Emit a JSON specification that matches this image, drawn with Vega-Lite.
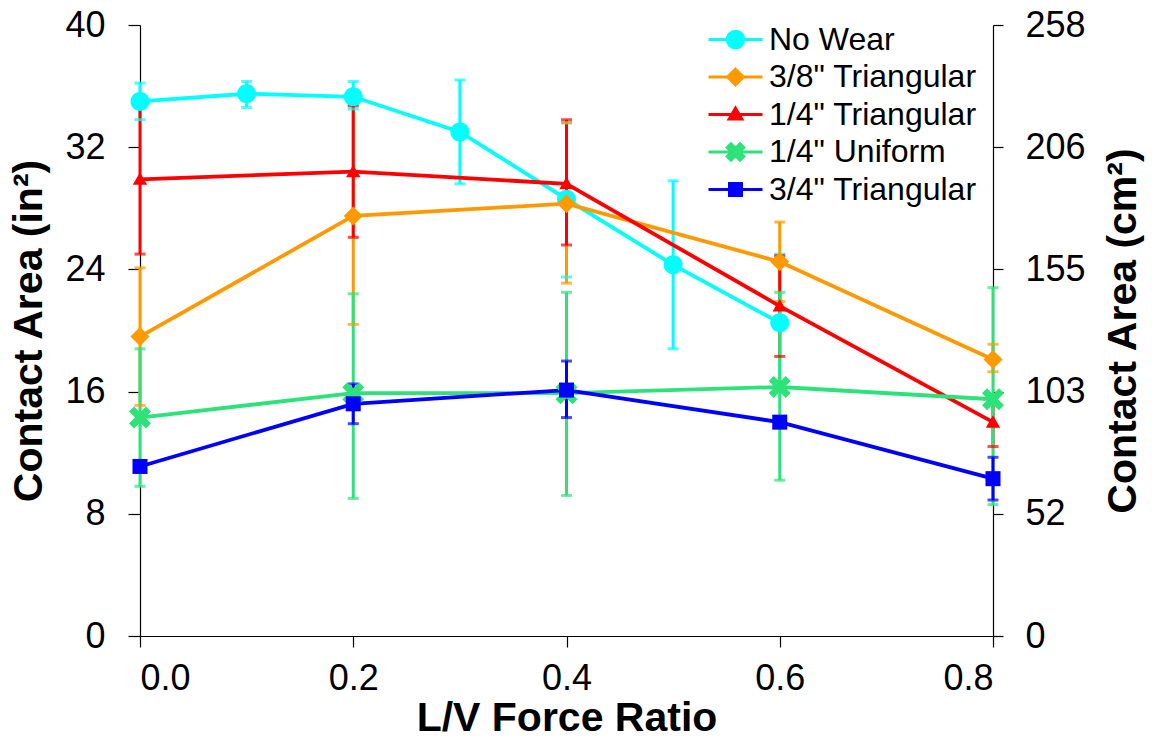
{
  "$schema": "https://vega.github.io/schema/vega-lite/v6.json",
  "width": 853,
  "height": 611,
  "autosize": {"type": "none"},
  "padding": {"left": 140, "top": 25, "right": 159, "bottom": 103},
  "config": {
    "view": {"stroke": null},
    "font": "Liberation Sans",
    "axis": {
      "grid": false,
      "domainColor": "#000000",
      "tickColor": "#000000",
      "domainWidth": 1.2,
      "tickWidth": 1.2,
      "labelFont": "Liberation Sans",
      "labelFontSize": 36,
      "labelColor": "#000000",
      "titleFont": "Liberation Sans",
      "titleFontSize": 41,
      "titleFontWeight": "bold",
      "titleColor": "#000000"
    }
  },
  "layer": [
    {
      "data": {
        "values": [
          {"series": "No Wear", "ratio": 0.0, "area": 35.0, "lo": 33.8, "hi": 36.2},
          {"series": "No Wear", "ratio": 0.1, "area": 35.5, "lo": 34.6, "hi": 36.3},
          {"series": "No Wear", "ratio": 0.2, "area": 35.3, "lo": 34.5, "hi": 36.3},
          {"series": "No Wear", "ratio": 0.3, "area": 33.0, "lo": 29.6, "hi": 36.4},
          {"series": "No Wear", "ratio": 0.4, "area": 28.6, "lo": 23.5, "hi": 33.6},
          {"series": "No Wear", "ratio": 0.5, "area": 24.3, "lo": 18.8, "hi": 29.8},
          {"series": "No Wear", "ratio": 0.6, "area": 20.5, "lo": 16.0, "hi": 25.0},
          {"series": "3/8\" Triangular", "ratio": 0.0, "area": 19.6, "lo": 15.1, "hi": 24.1},
          {"series": "3/8\" Triangular", "ratio": 0.2, "area": 27.5, "lo": 20.4, "hi": 34.8},
          {"series": "3/8\" Triangular", "ratio": 0.4, "area": 28.3, "lo": 23.1, "hi": 33.6},
          {"series": "3/8\" Triangular", "ratio": 0.6, "area": 24.5, "lo": 21.9, "hi": 27.1},
          {"series": "3/8\" Triangular", "ratio": 0.8, "area": 18.1, "lo": 17.3, "hi": 19.1},
          {"series": "1/4\" Triangular", "ratio": 0.0, "area": 29.9, "lo": 25.0, "hi": 34.8},
          {"series": "1/4\" Triangular", "ratio": 0.2, "area": 30.4, "lo": 26.1, "hi": 34.7},
          {"series": "1/4\" Triangular", "ratio": 0.4, "area": 29.6, "lo": 25.6, "hi": 33.8},
          {"series": "1/4\" Triangular", "ratio": 0.6, "area": 21.6, "lo": 18.3, "hi": 24.9},
          {"series": "1/4\" Triangular", "ratio": 0.8, "area": 14.0, "lo": 12.4, "hi": 15.6},
          {"series": "1/4\" Uniform", "ratio": 0.0, "area": 14.3, "lo": 9.8, "hi": 18.8},
          {"series": "1/4\" Uniform", "ratio": 0.2, "area": 15.9, "lo": 9.0, "hi": 22.4},
          {"series": "1/4\" Uniform", "ratio": 0.4, "area": 15.9, "lo": 9.2, "hi": 22.5},
          {"series": "1/4\" Uniform", "ratio": 0.6, "area": 16.3, "lo": 10.2, "hi": 22.5},
          {"series": "1/4\" Uniform", "ratio": 0.8, "area": 15.5, "lo": 8.6, "hi": 22.8},
          {"series": "3/4\" Triangular", "ratio": 0.0, "area": 11.1, "lo": 10.8, "hi": 11.4},
          {"series": "3/4\" Triangular", "ratio": 0.2, "area": 15.2, "lo": 13.9, "hi": 16.5},
          {"series": "3/4\" Triangular", "ratio": 0.4, "area": 16.1, "lo": 14.3, "hi": 18.0},
          {"series": "3/4\" Triangular", "ratio": 0.6, "area": 14.0, "lo": 13.7, "hi": 14.3},
          {"series": "3/4\" Triangular", "ratio": 0.8, "area": 10.3, "lo": 8.9, "hi": 11.7}
        ]
      },
      "encoding": {
        "x": {
          "field": "ratio",
          "type": "quantitative",
          "scale": {"domain": [0, 0.8], "nice": false},
          "axis": {
            "title": "L/V Force Ratio",
            "values": [0, 0.2, 0.4, 0.6, 0.8],
            "format": ".1f",
            "tickSize": 11,
            "labelPadding": 14,
            "titlePadding": 2
          }
        },
        "color": {
          "field": "series",
          "type": "nominal",
          "scale": {
            "domain": ["No Wear", "3/8\" Triangular", "1/4\" Triangular", "1/4\" Uniform", "3/4\" Triangular"],
            "range": ["#00FFFF", "#FF9900", "#FF0000", "#2EE27A", "#0000FF"]
          },
          "legend": {
            "title": null,
            "orient": "none",
            "legendX": 579,
            "legendY": -2,
            "padding": 0,
            "symbolSize": 900,
            "symbolStrokeWidth": 3,
            "labelFont": "Liberation Sans",
            "labelFontSize": 32,
            "labelColor": "#000000",
            "labelOffset": 17,
            "labelLimit": 400,
            "rowPadding": 4.5,
            "encode": {
              "symbols": {
                "update": {
                  "shape": {"signal": "indexof(datum.value, 'No Wear') >= 0 ? 'M-1.8,0H1.8M0.55,0A0.55,0.55 0 1,1 -0.55,0A0.55,0.55 0 1,1 0.55,0Z' : indexof(datum.value, '3/8') >= 0 ? 'M-1.8,0H1.8M0,-0.52L0.52,0L0,0.52L-0.52,0Z' : indexof(datum.value, 'Uniform') >= 0 ? 'M-1.8,0H1.8M-0.55,-0.3L-0.3,-0.55L0,-0.25L0.3,-0.55L0.55,-0.3L0.25,0L0.55,0.3L0.3,0.55L0,0.25L-0.3,0.55L-0.55,0.3L-0.25,0Z' : indexof(datum.value, '3/4') >= 0 ? 'M-1.8,0H1.8M-0.4,-0.4H0.4V0.4H-0.4Z' : 'M-1.8,0H1.8M0,-0.42L0.42,0.3L-0.42,0.3Z'"},
                  "fill": {"scale": "color", "field": "value"},
                  "stroke": {"scale": "color", "field": "value"},
                  "strokeWidth": {"value": 3},
                  "opacity": {"value": 1}
                }
              }
            }
          }
        }
      },
      "layer": [
        {
          "mark": {"type": "rule", "strokeWidth": 3},
          "encoding": {
            "y": {"field": "lo", "type": "quantitative", "scale": {"domain": [0, 40], "nice": false}, "axis": {"title": "Contact Area (in²)", "values": [0, 8, 16, 24, 32, 40], "tickSize": 12, "labelPadding": 23, "titlePadding": 14}},
            "y2": {"field": "hi"}
          }
        },
        {
          "mark": {"type": "tick", "orient": "horizontal", "size": 11, "thickness": 3},
          "encoding": {
            "y": {"field": "hi", "type": "quantitative", "scale": {"domain": [0, 40], "nice": false}, "axis": {"title": "Contact Area (in²)", "values": [0, 8, 16, 24, 32, 40], "tickSize": 12, "labelPadding": 23, "titlePadding": 14}}
          }
        },
        {
          "mark": {"type": "tick", "orient": "horizontal", "size": 11, "thickness": 3},
          "encoding": {
            "y": {"field": "lo", "type": "quantitative", "scale": {"domain": [0, 40], "nice": false}, "axis": {"title": "Contact Area (in²)", "values": [0, 8, 16, 24, 32, 40], "tickSize": 12, "labelPadding": 23, "titlePadding": 14}}
          }
        },
        {
          "mark": {"type": "line", "strokeWidth": 3.8},
          "encoding": {
            "y": {"field": "area", "type": "quantitative", "scale": {"domain": [0, 40], "nice": false}, "axis": {"title": "Contact Area (in²)", "values": [0, 8, 16, 24, 32, 40], "tickSize": 12, "labelPadding": 23, "titlePadding": 14}}
          }
        },
        {
          "mark": {"type": "point", "filled": true, "size": 400, "opacity": 1},
          "encoding": {
            "y": {"field": "area", "type": "quantitative", "scale": {"domain": [0, 40], "nice": false}, "axis": {"title": "Contact Area (in²)", "values": [0, 8, 16, 24, 32, 40], "tickSize": 12, "labelPadding": 23, "titlePadding": 14}},
            "shape": {
              "condition": [
                {"test": "datum.series === 'No Wear'", "value": "M0.95,0A0.95,0.95 0 1,1 -0.95,0A0.95,0.95 0 1,1 0.95,0Z"},
                {"test": "indexof(datum.series, '3/8') >= 0", "value": "M0,-0.95L0.95,0L0,0.95L-0.95,0Z"},
                {"test": "indexof(datum.series, 'Uniform') >= 0", "value": "M-1.1,-0.6L-0.6,-1.1L0,-0.5L0.6,-1.1L1.1,-0.6L0.5,0L1.1,0.6L0.6,1.1L0,0.5L-0.6,1.1L-1.1,0.6L-0.5,0Z"},
                {"test": "indexof(datum.series, '3/4') >= 0", "value": "M-0.75,-0.75H0.75V0.75H-0.75Z"}
              ],
              "value": "M0,-0.7L0.72,0.55L-0.72,0.55Z"
            }
          }
        }
      ]
    },
    {
      "data": {"values": [{"cm": 0}, {"cm": 258.064}]},
      "mark": {"type": "point", "opacity": 0},
      "encoding": {
        "y": {
          "field": "cm",
          "type": "quantitative",
          "scale": {"domain": [0, 258.064], "nice": false},
          "axis": {
            "orient": "right",
            "title": "Contact Area (cm²)",
            "values": [0, 51.6128, 103.2256, 154.8384, 206.4512, 258.064],
            "format": ".0f",
            "tickSize": 10,
            "labelPadding": 22,
            "titleAngle": 270,
            "titleBaseline": "alphabetic",
            "titlePadding": 50
          }
        }
      }
    }
  ],
  "resolve": {"scale": {"y": "independent"}, "axis": {"y": "independent"}}
}
